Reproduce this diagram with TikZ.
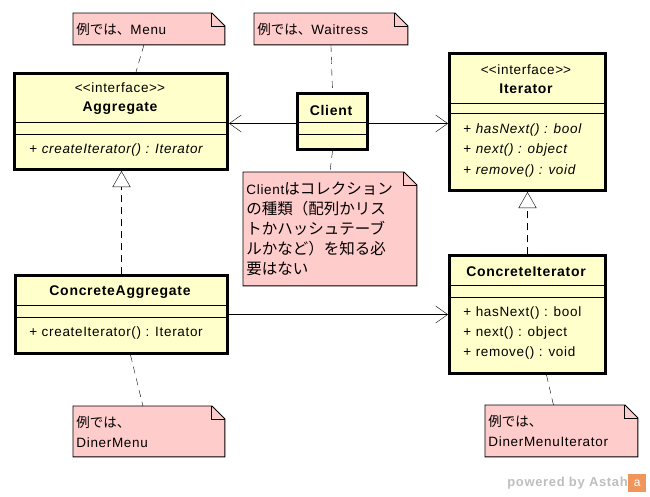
\documentclass[tikz,border=0pt]{standalone}
\usepackage{fontspec}
\setmainfont{Liberation Sans}[LetterSpace=5]
\newfontfamily\jp{Noto Sans CJK JP}
\usetikzlibrary{arrows.meta,backgrounds}

\definecolor{classfill}{RGB}{255,255,204}
\definecolor{notefill}{RGB}{255,204,204}
\definecolor{astahgray}{RGB}{190,190,190}
\definecolor{astahorange}{RGB}{240,150,90}

% pink note with folded corner, drawn round a named node
\newcommand{\notefold}[1]{%
  \filldraw[fill=notefill, line width=0.9pt] (#1.south west) -- (#1.north west) -- ([xshift=-13pt]#1.north east)
    -- ([yshift=-13pt]#1.north east) -- (#1.south east) -- cycle;
  \draw[line width=0.9pt] ([xshift=-13pt]#1.north east) |- ([yshift=-13pt]#1.north east);}
\newcommand{\jpbig}[1]{{\fontsize{15.5}{20}\selectfont\jp #1}}

\begin{document}
\begin{tikzpicture}[x=1pt, y=-1pt, line width=0.9pt,
    umlclass/.style={draw, line width=3pt, fill=classfill, anchor=north west, inner sep=0pt},
    umlnote/.style={anchor=north west, inner xsep=3pt, inner ysep=0pt, align=left, font=\fontsize{13.5}{20}\selectfont},
    stereo/.style={font=\fontsize{13.5}{15}\selectfont},
    cname/.style={font=\fontsize{14}{16}\selectfont\bfseries},
    member/.style={anchor=west, inner sep=0pt, font=\fontsize{13.5}{16}\selectfont},
    assoc/.style={-{Straight Barb[length=12pt, width=17pt]}},
    realize/.style={dash pattern=on 7pt off 5pt, -{Triangle[open, length=16pt, width=18pt, fill=white]}},
    noteline/.style={dash pattern=on 7pt off 5pt}]
    \useasboundingbox (0,0) rectangle (650,496);

    % Aggregate
    \node[umlclass, minimum width=213pt, minimum height=96pt] (aggregate) at (13,72) {};
    \node[stereo] at (120,88) {<\kern0pt<interface>\kern0pt>};
    \node[cname] at (120,108) {Aggregate};
    \draw (13,122) -- (226,122);
    \draw (13,134) -- (226,134);
    \node[member] at (29,150) {+ \textit{createIterator() : Iterator}};

    % Client
    \node[umlclass, minimum width=70pt, minimum height=56pt] (client) at (296,92) {};
    \node[cname] at (331,110) {Client};
    \draw (296,122) -- (366,122);
    \draw (296,134) -- (366,134);

    % Iterator
    \node[umlclass, minimum width=156pt, minimum height=137pt] (iterator) at (448,52) {};
    \node[stereo] at (526,70) {<\kern0pt<interface>\kern0pt>};
    \node[cname] at (526,89) {Iterator};
    \draw (448,103) -- (604,103);
    \draw (448,113) -- (604,113);
    \node[member] at (463,130) {+ \textit{hasNext() : bool}};
    \node[member] at (463,150) {+ \textit{next() : object}};
    \node[member] at (463,171) {+ \textit{remove() : void}};

    % ConcreteAggregate
    \node[umlclass, minimum width=212pt, minimum height=78pt] (concagg) at (14,274) {};
    \node[cname] at (120,292) {ConcreteAggregate};
    \draw (14,305) -- (226,305);
    \draw (14,317) -- (226,317);
    \node[member] at (29,333) {+ createIterator() : Iterator};

    % ConcreteIterator
    \node[umlclass, minimum width=156pt, minimum height=118pt] (conciter) at (448,254) {};
    \node[cname] at (526,272) {ConcreteIterator};
    \draw (448,285) -- (604,285);
    \draw (448,297) -- (604,297);
    \node[member] at (463,313) {+ hasNext() : bool};
    \node[member] at (463,333) {+ next() : object};
    \node[member] at (463,353) {+ remove() : void};

    % notes
    \node[umlnote, minimum width=151pt, minimum height=31pt, text width=145pt] (menunote) at (73,13) {{\jp 例では、}Menu};
    \node[umlnote, minimum width=153pt, minimum height=31pt, text width=147pt] (waitressnote) at (254,13) {{\jp 例では、}Waitress};
    \node[umlnote, minimum width=173pt, minimum height=113pt, text width=167pt] (clientnote) at (243,172)
        {Client\jpbig{はコレクション}\\ \jpbig{の種類（配列かリス}\\ \jpbig{トかハッシュテーブ}\\ \jpbig{ルかなど）を知る必}\\ \jpbig{要はない}};
    \node[umlnote, minimum width=151pt, minimum height=50pt, text width=145pt] (dinermenunote) at (73,406) {{\jp 例では、}\\DinerMenu};
    \node[umlnote, minimum width=152pt, minimum height=51pt, text width=146pt] (dmiternote) at (485,405) {{\jp 例では、}\\DinerMenuIterator};
    \begin{pgfonlayer}{background}
        \notefold{menunote}
        \notefold{waitressnote}
        \notefold{clientnote}
        \notefold{dinermenunote}
        \notefold{dmiternote}
    \end{pgfonlayer}

    % note anchors
    \draw[noteline] ([xshift=-5pt]menunote.south) -- ([xshift=15pt]aggregate.north);
    \draw[noteline] (waitressnote.south) -- (client.north);
    \draw[noteline] (client.south) -- (clientnote.north);
    \draw[noteline] ([xshift=9pt]concagg.south) -- ([xshift=-6pt]dinermenunote.north);
    \draw[noteline] ([xshift=19pt]conciter.south) -- ([xshift=-8pt]dmiternote.north);

    % associations and realizations
    \draw[assoc] ([yshift=-2pt]client.west) -- ([yshift=-2pt]aggregate.east);
    \draw[assoc] ([yshift=-2pt]client.east) -- ([yshift=-2pt]client.east -| iterator.west);
    \draw[assoc] (concagg) -- (conciter);
    \draw[realize] (concagg.north) -- (concagg.north |- aggregate.south);
    \draw[realize] (conciter.north) -- (iterator.south);

    % watermark
    \node[text=astahgray, font=\fontsize{13}{15}\selectfont\bfseries, anchor=east, inner sep=0pt] (poweredby) at (628,483) {powered by Astah};
    \node[fill=astahorange, minimum size=18pt, inner sep=0pt, anchor=west, text=white, font=\fontsize{12}{12}\selectfont] (astahlogo) at (poweredby.east) {a};
\end{tikzpicture}
\end{document}
